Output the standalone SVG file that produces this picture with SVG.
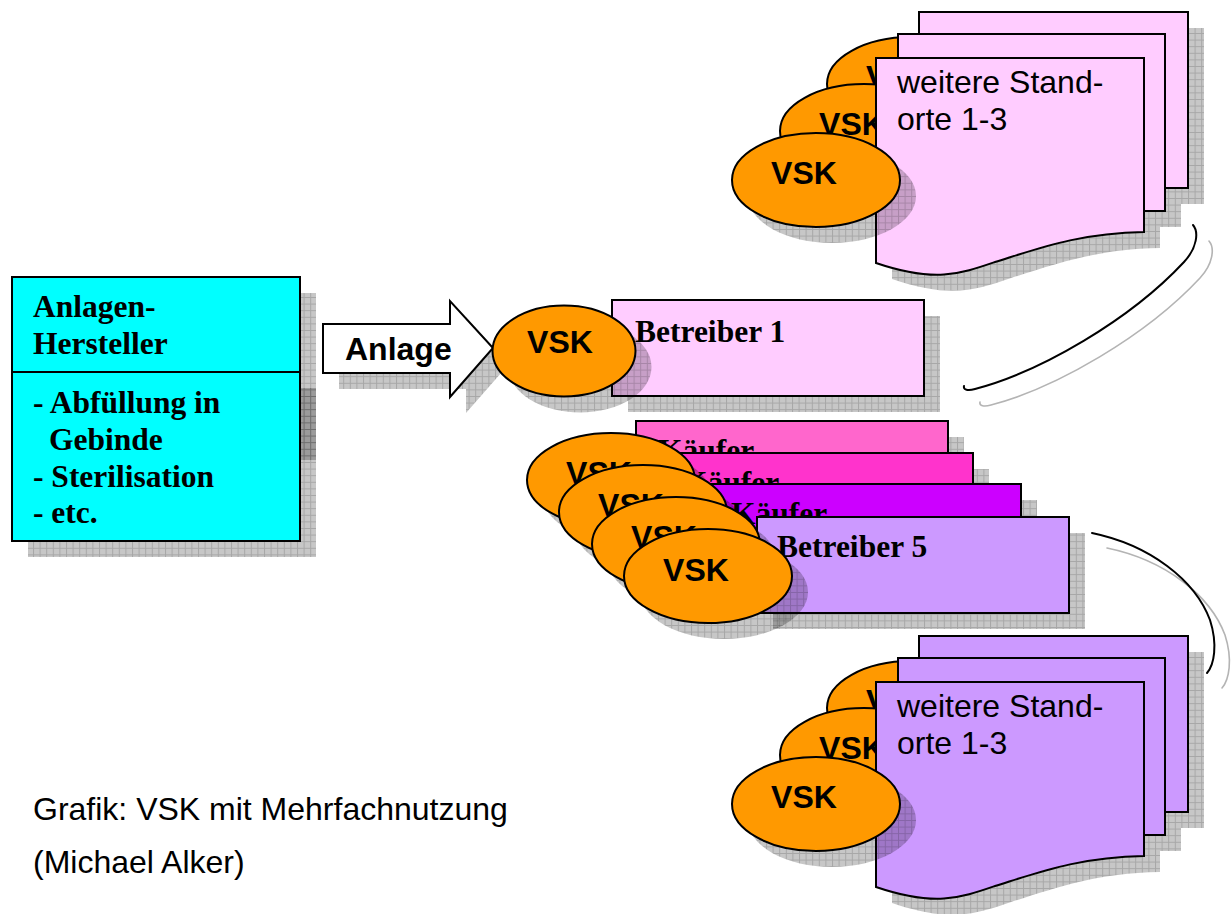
<svg xmlns="http://www.w3.org/2000/svg" width="1232" height="914" viewBox="0 0 1232 914">
  <defs>
    <!-- hatched drop shadow fill -->
    <pattern id="hatch" width="6.6" height="6.6" patternUnits="userSpaceOnUse">
      <rect width="6.6" height="6.6" fill="#000" fill-opacity="0.22"/>
      <path d="M0,0.5H6.6M0.5,0V6.6" stroke="#000" stroke-opacity="0.16" stroke-width="1"/>
    </pattern>
    <ellipse id="ovalBig" cx="0" cy="0" rx="84" ry="47"/>
  </defs>
  <style>
    .ln { stroke:#000; stroke-width:2; }
    .sh { fill:url(#hatch); stroke:none; }
    .vsk { fill:#FF9900; stroke:#000; stroke-width:2; }
    .sans { font-family:"Liberation Sans", Arial, sans-serif; font-size:32px; fill:#000; }
    .sansb { font-family:"Liberation Sans", Arial, sans-serif; font-size:32px; font-weight:bold; fill:#000; }
    .serifb { font-family:"Liberation Serif", "Times New Roman", serif; font-size:31.5px; font-weight:bold; fill:#000; }
    .mid { text-anchor:middle; }
    .arc { fill:none; stroke:#000; stroke-width:2; stroke-linecap:round; }
    .arcsh { fill:none; stroke:#b4b4b4; stroke-width:1.6; stroke-linecap:round; }
    .pinkpage { fill:#FFCCFF; }
    .lilacpage { fill:#CC99FF; }
  </style>

  <rect width="1232" height="914" fill="#fff"/>

  <!-- manufacturer box -->
  <g id="hersteller">
    <rect class="sh" x="28" y="293" width="288" height="264"/>
    <rect class="sh" x="300" y="388" width="16" height="72"/>
    <rect x="12" y="277" width="288" height="264" fill="#00FFFF" class="ln"/>
    <line x1="12" y1="372" x2="300" y2="372" class="ln"/>
    <text class="serifb" x="33" y="317">Anlagen-</text>
    <text class="serifb" x="33" y="354">Hersteller</text>
    <text class="serifb" x="33" y="413">- Abfüllung in</text>
    <text class="serifb" x="49" y="450">Gebinde</text>
    <text class="serifb" x="33" y="487">- Sterilisation</text>
    <text class="serifb" x="33" y="523">- etc.</text>
  </g>

  <!-- operator 1 -->
  <g id="betreiber1">
    <rect class="sh" x="628" y="316" width="312" height="96"/>
    <rect x="612" y="300" width="312" height="96" fill="#FFCCFF" class="ln"/>
    <text class="serifb" x="635" y="342">Betreiber 1</text>
  </g>

  <!-- delivery arrow -->
  <g id="anlage">
    <path class="sh" d="M339,340H466V317L509,364L466,413V389H339Z"/>
    <path d="M323,324H450V301L493,348L450,397V373H323Z" fill="#fff" class="ln" stroke-linejoin="miter"/>
    <text class="sansb" x="345" y="360">Anlage</text>
  </g>

  <g id="vsk-betreiber1">
    <ellipse class="sh" cx="580" cy="367" rx="71.5" ry="45.5"/>
    <ellipse class="vsk" cx="564" cy="351" rx="71.5" ry="45.5"/>
    <text class="sansb mid" x="560" y="353">VSK</text>
  </g>

  <!-- buyers and operator 5 -->
  <g id="kaeufer1">
    <rect class="sh" x="652" y="437" width="312" height="96"/>
    <rect x="636" y="421" width="312" height="96" fill="#FF66CC" class="ln"/>
    <text class="serifb" x="658" y="461">Käufer</text>
  </g>
  <g id="kaeufer2">
    <rect class="sh" x="677" y="469" width="312" height="96"/>
    <rect x="661" y="453" width="312" height="96" fill="#FF33CC" class="ln"/>
    <text class="serifb" x="683" y="493">Käufer</text>
  </g>
  <g id="kaeufer3">
    <rect class="sh" x="725" y="500" width="312" height="96"/>
    <rect x="709" y="484" width="312" height="96" fill="#CC00FF" class="ln"/>
    <text class="serifb" x="731" y="524">Käufer</text>
  </g>
  <g id="betreiber5">
    <rect class="sh" x="773" y="533" width="312" height="96"/>
    <rect x="757" y="517" width="312" height="96" fill="#CC99FF" class="ln"/>
    <text class="serifb" x="777" y="557">Betreiber 5</text>
  </g>

  <g id="vsk-kaeufer1">
    <use href="#ovalBig" x="627" y="496" class="sh"/>
    <use href="#ovalBig" x="611" y="480" class="vsk"/>
    <text class="sansb mid" x="599" y="484">VSK</text>
  </g>
  <g id="vsk-kaeufer2">
    <use href="#ovalBig" x="659" y="528" class="sh"/>
    <use href="#ovalBig" x="643" y="512" class="vsk"/>
    <text class="sansb mid" x="631" y="516">VSK</text>
  </g>
  <g id="vsk-kaeufer3">
    <use href="#ovalBig" x="692" y="560" class="sh"/>
    <use href="#ovalBig" x="676" y="544" class="vsk"/>
    <text class="sansb mid" x="664" y="548">VSK</text>
  </g>
  <g id="vsk-betreiber5">
    <use href="#ovalBig" x="724" y="592" class="sh"/>
    <use href="#ovalBig" x="708" y="576" class="vsk"/>
    <text class="sansb mid" x="696" y="581">VSK</text>
  </g>

  <!-- further sites of operator 1 -->
  <g id="standorte-oben">
    <use href="#ovalBig" x="927" y="100" class="sh"/>
    <use href="#ovalBig" x="911" y="84" class="vsk"/>
    <text class="sansb mid" x="899" y="88">VSK</text>
    <use href="#ovalBig" x="880" y="147" class="sh"/>
    <use href="#ovalBig" x="864" y="131" class="vsk"/>
    <text class="sansb mid" x="852" y="135">VSK</text>
    <path class="sh" d="M935,28H1204V204H935Z M914,50H1181V227H914Z M892,74H1160V248C1096,249 1056,264 1011,278C976,290 951,299 892,279Z"/>
    <rect x="919" y="12" width="269" height="176" class="pinkpage ln"/>
    <rect x="898" y="34" width="267" height="177" class="pinkpage ln"/>
    <path d="M876,58H1144V232C1080,233 1040,248 995,262C960,274 935,283 876,263Z" class="pinkpage ln"/>
    <text class="sans" x="897" y="93">weitere Stand-</text>
    <text class="sans" x="897" y="130">orte 1-3</text>
    <use href="#ovalBig" x="832" y="196" class="sh"/>
    <use href="#ovalBig" x="816" y="180" class="vsk"/>
    <text class="sansb mid" x="804" y="184">VSK</text>
  </g>

  <!-- further sites of operator 5 -->
  <g id="standorte-unten" transform="translate(0,624)">
    <use href="#ovalBig" x="927" y="100" class="sh"/>
    <use href="#ovalBig" x="911" y="84" class="vsk"/>
    <text class="sansb mid" x="899" y="88">VSK</text>
    <use href="#ovalBig" x="880" y="147" class="sh"/>
    <use href="#ovalBig" x="864" y="131" class="vsk"/>
    <text class="sansb mid" x="852" y="135">VSK</text>
    <path class="sh" d="M935,28H1204V204H935Z M914,50H1181V227H914Z M892,74H1160V248C1096,249 1056,264 1011,278C976,290 951,299 892,279Z"/>
    <rect x="919" y="12" width="269" height="176" class="lilacpage ln"/>
    <rect x="898" y="34" width="267" height="177" class="lilacpage ln"/>
    <path d="M876,58H1144V232C1080,233 1040,248 995,262C960,274 935,283 876,263Z" class="lilacpage ln"/>
    <text class="sans" x="897" y="93">weitere Stand-</text>
    <text class="sans" x="897" y="130">orte 1-3</text>
    <use href="#ovalBig" x="832" y="196" class="sh"/>
    <use href="#ovalBig" x="816" y="180" class="vsk"/>
    <text class="sansb mid" x="804" y="184">VSK</text>
  </g>

  <!-- curved links to the further sites -->
  <g id="connectors">
    <path class="arcsh" d="M1209,241C1215,248 1213,264 1200,278C1146,336 1056,388 991,405C984,407 979,406 980,402"/>
    <path class="arc" d="M1193,225C1199,232 1197,248 1184,262C1130,320 1040,372 975,389C968,391 963,390 964,386"/>
    <path class="arcsh" d="M1107,548C1165,560 1210,595 1225,635C1233,660 1229,680 1222,688"/>
    <path class="arc" d="M1092,533C1150,545 1195,580 1210,620C1218,645 1214,665 1207,673"/>
  </g>

  <g id="caption">
    <text class="sans" x="33" y="820">Grafik: VSK mit Mehrfachnutzung</text>
    <text class="sans" x="33" y="873">(Michael Alker)</text>
  </g>
</svg>
